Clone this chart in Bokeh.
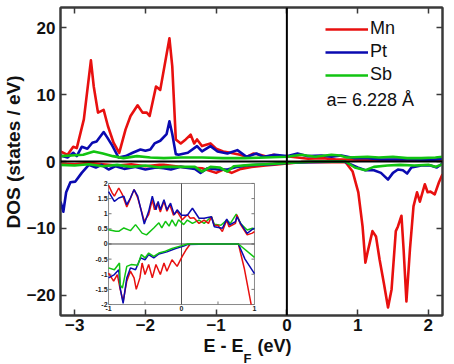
import numpy as np
from bokeh.plotting import figure
from bokeh.models import Range1d, LinearAxis, FixedTicker, Span, Label, Legend, LegendItem, Title
from bokeh.embed import file_html
from bokeh.resources import INLINE

# ---------------- main panel data (E - EF in eV, DOS in states/eV) ----------------
mn_up_x = [-3.2, -3.1, -3.02, -2.97, -2.87, -2.77, -2.73, -2.67, -2.59, -2.53, -2.45, -2.37, -2.28, -2.21,
           -2.11, -2.04, -1.98, -1.94, -1.85, -1.79, -1.66, -1.62, -1.57, -1.5, -1.43, -1.36, -1.31, -1.27,
           -1.2, -1.08, -1.0, -0.9, -0.8, -0.66, -0.57, -0.47, -0.38, -0.28, -0.19, -0.09, 0.0, 0.15, 0.3,
           0.5, 0.7, 0.9, 1.2, 1.5, 1.8, 2.2]
mn_up_y = [1.5, 1.0, 2.2, 2.0, 6.3, 15.1, 11.2, 7.3, 7.7, 5.3, 2.8, 1.3, 4.8, 6.8,
           8.4, 7.3, 7.3, 6.8, 11.2, 10.7, 18.4, 14.2, 3.3, 2.7, 3.3, 4.0, 2.7, 3.3,
           2.3, 2.7, 1.9, 1.5, 1.3, 1.0, 0.7, 1.2, 1.0, 0.7, 1.0, 0.7, 0.8, 0.6, 0.4,
           0.5, 0.3, 0.3, 0.2, 0.2, 0.3, 0.2]
pt_up_x = [-3.2, -3.1, -3.02, -2.97, -2.9, -2.82, -2.75, -2.69, -2.59, -2.54, -2.47, -2.38, -2.28, -2.18,
           -2.07, -2.0, -1.93, -1.87, -1.79, -1.7, -1.66, -1.62, -1.57, -1.53, -1.4, -1.27, -1.2, -1.08,
           -0.98, -0.84, -0.7, -0.57, -0.43, -0.33, -0.17, 0.0, 0.15, 0.3, 0.49, 0.63, 0.77, 0.96, 1.14,
           1.33, 1.57, 1.8, 2.03, 2.2]
pt_up_y = [0.9, 0.6, 1.3, 0.8, 2.2, 1.9, 2.8, 3.0, 4.4, 3.6, 2.4, 0.6, 0.8, 1.3,
           1.8, 1.6, 1.8, 2.7, 3.1, 4.1, 6.0, 4.1, 1.1, 1.0, 1.3, 2.3, 1.5, 2.3,
           1.5, 1.2, 1.7, 0.7, 1.2, 0.7, 1.0, 0.8, 1.2, 0.8, 0.9, 0.7, 0.9, 0.5, 0.5,
           0.3, 0.3, 0.3, 0.2, 0.4]
sb_up_x = [-3.2, -3.05, -2.88, -2.73, -2.6, -2.46, -2.31, -2.12, -1.93, -1.74, -1.5, -1.2, -0.9, -0.6,
           -0.3, 0.0, 0.2, 0.4, 0.63, 0.75, 0.85, 1.14, 1.3, 1.5, 1.7, 1.9, 2.1, 2.2]
sb_up_y = [0.8, 0.9, 1.0, 1.5, 1.2, 0.8, 0.5, 0.8, 0.6, 0.5, 0.6, 0.6, 0.5, 0.5,
           0.6, 0.7, 1.0, 0.7, 1.0, 0.9, 0.6, 0.7, 0.6, 0.7, 0.5, 0.5, 0.6, 0.7]

mn_dn_x = [-3.2, -3.0, -2.8, -2.6, -2.4, -2.2, -2.0, -1.8, -1.74, -1.57, -1.4, -1.2, -1.0, -0.9, -0.78,
           -0.65, -0.5, -0.3, -0.1, 0.0, 0.2, 0.5, 0.83, 0.93, 1.01, 1.07, 1.11, 1.14, 1.21, 1.26, 1.31,
           1.37, 1.43, 1.48, 1.54, 1.57, 1.62, 1.65, 1.69, 1.74, 1.79, 1.84, 1.88, 1.95, 1.99, 2.03,
           2.09, 2.15, 2.2]
mn_dn_y = [-0.3, -0.4, -0.2, -0.4, -0.6, -0.4, -0.7, -0.5, -0.5, -0.7, -0.9, -1.0, -1.7, -1.2, -1.7,
           -1.1, -0.8, -0.6, -0.4, -0.3, -0.1, -0.05, -0.1, -1.5, -4.6, -9.7, -15.1, -13.6, -10.4, -11.2, -14.6,
           -18.1, -21.8, -19.1, -10.4, -9.7, -8.1, -13.1, -20.9, -13.1, -6.7, -4.6, -6.0, -3.4, -4.6, -4.5,
           -4.9, -3.1, -1.9]
pt_dn_x = [-3.2, -3.16, -3.12, -3.06, -2.99, -2.9, -2.8, -2.7, -2.62, -2.52, -2.42, -2.3, -2.15, -2.0,
           -1.85, -1.74, -1.64, -1.5, -1.3, -1.22, -1.12, -0.98, -0.84, -0.7, -0.57, -0.43, -0.2, 0.0,
           0.3, 0.81, 1.0, 1.11, 1.23, 1.33, 1.43, 1.5, 1.57, 1.64, 1.7, 1.76, 1.9, 2.03, 2.12, 2.2]
pt_dn_y = [-6.0, -7.5, -4.6, -3.1, -3.0, -1.7, -0.5, -0.9, -0.5, -1.2, -0.7, -1.1, -0.8, -1.2,
           -0.9, -1.0, -1.2, -0.8, -1.1, -1.7, -1.0, -1.2, -1.2, -0.8, -0.6, -0.5, -0.4, -0.2,
           -0.1, 0.0, -0.9, -1.3, -1.3, -1.7, -2.7, -1.7, -1.2, -1.3, -1.8, -0.9, -0.6, -0.6, -0.9, -0.3]
sb_dn_x = [-3.2, -3.0, -2.8, -2.6, -2.4, -2.2, -2.0, -1.8, -1.74, -1.5, -1.3, -1.2, -1.08, -0.95, -0.84,
           -0.75, -0.5, -0.3, 0.0, 0.4, 0.83, 0.96, 1.11, 1.23, 1.42, 1.6, 1.8, 2.0, 2.1, 2.2]
sb_dn_y = [-0.5, -0.6, -0.4, -0.7, -0.5, -0.8, -0.6, -0.9, -0.8, -0.8, -0.8, -1.5, -0.8, -0.9, -1.5,
           -0.7, -0.5, -0.4, -0.2, 0.0, 0.0, -0.9, -1.3, -0.8, -0.6, -0.5, -0.6, -0.5, -0.8, -0.4]

x_ticks = [-3, -2, -1, 0, 1, 2]
y_ticks = [-20, -10, 0, 10, 20]

# ---------------- inset data ----------------
in_mn_up_x = [-1.0, -0.95, -0.92, -0.86, -0.81, -0.75, -0.7, -0.65, -0.6, -0.55, -0.51, -0.45, -0.4, -0.37,
              -0.33, -0.29, -0.24, -0.2, -0.16, -0.11, -0.06, 0.01, 0.08, 0.12, 0.17, 0.24, 0.31, 0.37, 0.41,
              0.45, 0.5, 0.56, 0.62, 0.65, 0.74, 0.76, 0.81, 0.9, 0.97, 1.0]
in_mn_up_y = [1.94, 1.69, 1.58, 1.85, 1.63, 1.22, 1.5, 1.8, 1.52, 1.1, 0.75, 0.97, 1.46, 1.13,
              1.35, 1.06, 1.41, 1.08, 1.30, 0.95, 1.08, 0.80, 0.97, 0.85, 0.87, 0.68, 0.79, 0.68, 0.9,
              0.6, 0.62, 0.41, 0.79, 0.57, 0.68, 0.96, 0.64, 0.3, 0.36, 0.41]
in_pt_up_x = [-1.0, -0.92, -0.86, -0.79, -0.75, -0.7, -0.65, -0.6, -0.55, -0.51, -0.45, -0.4, -0.35, -0.32,
              -0.29, -0.24, -0.2, -0.15, -0.1, -0.06, 0.0, 0.08, 0.15, 0.24, 0.31, 0.41, 0.45, 0.56, 0.62,
              0.66, 0.74, 0.76, 0.81, 0.9, 0.97, 1.0]
in_pt_up_y = [1.73, 1.41, 1.52, 1.58, 1.30, 1.52, 1.8, 1.58, 1.08, 0.66, 1.08, 1.58, 1.13, 1.41,
              1.13, 1.46, 1.13, 1.35, 0.97, 1.13, 0.95, 0.95, 1.18, 0.85, 0.85, 0.9, 0.57, 0.52, 0.82,
              0.63, 0.74, 0.9, 0.68, 0.35, 0.48, 0.52]
in_sb_up_x = [-1.0, -0.9, -0.86, -0.79, -0.7, -0.63, -0.54, -0.48, -0.38, -0.31, -0.27, -0.22, -0.17, -0.13,
              -0.08, -0.04, 0.03, 0.08, 0.15, 0.24, 0.31, 0.41, 0.45, 0.54, 0.62, 0.67, 0.75, 0.81, 0.9,
              0.97, 1.0]
in_sb_up_y = [0.47, 0.42, 0.42, 0.53, 0.44, 0.64, 0.36, 0.3, 0.53, 0.7, 0.53, 0.75, 0.59, 0.8,
              0.59, 0.8, 0.64, 0.79, 0.68, 0.79, 0.68, 0.9, 0.65, 0.62, 0.79, 0.68, 0.99, 0.68, 0.46,
              0.52, 0.48]
in_mn_dn_x = [-1.0, -0.93, -0.88, -0.84, -0.8, -0.75, -0.7, -0.65, -0.62, -0.57, -0.54, -0.5, -0.45, -0.4,
              -0.35, -0.29, -0.24, -0.2, -0.13, -0.06, 0.01, 0.06, 0.12, 0.4, 0.78, 0.86, 0.955]
in_mn_dn_y = [-0.96, -1.23, -1.01, -1.5, -1.9, -1.23, -0.9, -1.12, -1.5, -1.12, -0.63, -1.01, -0.68, -1.12,
              -0.68, -1.01, -0.63, -0.9, -0.52, -0.74, -0.41, -0.2, 0.0, 0.0, 0.0, -0.8, -2.0]
in_pt_dn_x = [-1.0, -0.92, -0.86, -0.84, -0.8, -0.75, -0.7, -0.63, -0.56, -0.5, -0.45, -0.38, -0.31, -0.2,
              -0.08, 0.03, 0.08, 0.4, 0.78, 0.87, 1.0]
in_pt_dn_y = [-1.12, -1.01, -0.85, -1.46, -1.96, -1.12, -0.79, -0.85, -0.46, -0.52, -0.35, -0.46, -0.33, -0.26,
              -0.15, -0.07, -0.02, 0.0, 0.0, -0.5, -0.98]
in_sb_dn_x = [-1.0, -0.92, -0.85, -0.84, -0.81, -0.75, -0.69, -0.6, -0.55, -0.5, -0.45, -0.38, -0.31, -0.22,
              -0.13, -0.02, 0.08, 0.4, 0.78, 1.0]
in_sb_dn_y = [-0.79, -0.85, -0.63, -1.35, -1.46, -0.74, -0.68, -0.7, -0.35, -0.46, -0.3, -0.41, -0.3, -0.24,
              -0.15, -0.07, 0.0, 0.0, 0.0, -0.44]

in_x_ticks = [-1, 0, 1]
in_x_labels = ["-1", "0", "1"]
in_y_ticks = [2, 1.5, 1, 0.5, 0, -0.5, -1, -1.5, -2]
in_y_labels = ["2", "1.5", "1", "0.5", "0", "-0.5", "-1", "-1.5", "-2"]
in_minor_x = [-0.5, 0.5]

RED, BLUE, GREEN = "#e8100f", "#0a0ab0", "#12c412"
FONT = "Liberation Sans"
DARK = "#3a3a3a"
TXT = "#111111"

p = figure(width=450, height=364, x_range=Range1d(-3.2, 2.2), y_range=Range1d(-23, 23),
           output_backend="svg", toolbar_location=None,
           min_border_left=60, min_border_right=8, min_border_top=7, min_border_bottom=49)
p.grid.visible = False
p.outline_line_color = DARK
p.outline_line_width = 2
p.background_fill_color = "white"
p.border_fill_color = "white"


def style_axis(ax, ticks, show_labels):
    ax.ticker = FixedTicker(ticks=ticks)
    ax.axis_line_color = DARK
    ax.axis_line_width = 2
    ax.major_tick_in = 6
    ax.major_tick_out = 0
    ax.major_tick_line_color = DARK
    ax.major_tick_line_width = 1.5
    ax.minor_tick_line_color = None
    ax.major_label_text_font = FONT
    ax.major_label_text_font_style = "bold"
    ax.major_label_text_font_size = "17px"
    ax.major_label_text_color = TXT
    if not show_labels:
        ax.major_label_overrides = {t: "" for t in ticks}
        ax.major_label_text_font_size = "1px"
        ax.major_label_standoff = 0


style_axis(p.xaxis[0], x_ticks, True)
style_axis(p.yaxis[0], y_ticks, True)
p.xaxis[0].major_label_standoff = 3
p.yaxis[0].major_label_standoff = 5

top_ax = LinearAxis()
right_ax = LinearAxis()
style_axis(top_ax, x_ticks, False)
style_axis(right_ax, y_ticks, False)
p.add_layout(top_ax, "above")
p.add_layout(right_ax, "right")

# axis titles (side-panel titles, so they are not clipped by the frame)
p.add_layout(Title(text="DOS (states / eV)", align="left", offset=87, standoff=0,
                   text_font=FONT, text_font_style="bold", text_font_size="19px", text_color=TXT), "left")
p.add_layout(Title(text="E - E\u2002 (eV)", align="left", offset=143, standoff=0,
                   text_font=FONT, text_font_style="bold", text_font_size="18px", text_color=TXT), "below")
p.add_layout(Title(text="F", align="left", offset=183, standoff=-14,
                   text_font=FONT, text_font_style="bold", text_font_size="13px", text_color=TXT), "below")

# zero lines
p.add_layout(Span(location=0, dimension="height", line_color="black", line_width=2))
p.add_layout(Span(location=0, dimension="width", line_color="black", line_width=2))

LW = 2.6
r_mn = p.line(mn_up_x, mn_up_y, line_color=RED, line_width=LW, line_join="round")
r_pt = p.line(pt_up_x, pt_up_y, line_color=BLUE, line_width=LW, line_join="round")
p.line(mn_dn_x, mn_dn_y, line_color=RED, line_width=LW, line_join="round")
p.line(pt_dn_x, pt_dn_y, line_color=BLUE, line_width=LW, line_join="round")
r_sb = p.line(sb_up_x, sb_up_y, line_color=GREEN, line_width=LW, line_join="round")
p.line(sb_dn_x, sb_dn_y, line_color=GREEN, line_width=LW, line_join="round")

legend = Legend(items=[LegendItem(label="Mn", renderers=[r_mn]),
                       LegendItem(label="Pt", renderers=[r_pt]),
                       LegendItem(label="Sb", renderers=[r_sb])],
                location=(265, 230), padding=0, margin=0, spacing=2,
                glyph_width=43, glyph_height=20, label_height=20, label_standoff=2,
                border_line_color=None, background_fill_alpha=0,
                label_text_font=FONT, label_text_font_size="18px", label_text_color=TXT)
p.add_layout(legend)

p.add_layout(Label(x=266, y=216, x_units="screen", y_units="screen", text="a= 6.228 Å",
                   text_font=FONT, text_font_size="18px", text_color=TXT,
                   text_baseline="alphabetic"))

# ---------------- inset ----------------
sub = p.subplot(x_source=Range1d(-1, 1), y_source=Range1d(-2, 2),
                x_target=Range1d(-2.521, -0.458), y_target=Range1d(-21.36, -3.28))
sub.quad(left=[in_x_ticks[0]], right=[in_x_ticks[-1]], bottom=[in_y_ticks[-1]], top=[in_y_ticks[0]],
         fill_color="white", line_color="#8a8a8a", line_width=1)
tl_x = 3 / 73.0
tl_y = 3 / 30.0
sub.segment(x0=[in_x_ticks[0]] * len(in_y_ticks), y0=in_y_ticks,
            x1=[in_x_ticks[0] + tl_x] * len(in_y_ticks), y1=in_y_ticks, line_color="#777777", line_width=1)
sub.segment(x0=[in_x_ticks[-1]] * len(in_y_ticks), y0=in_y_ticks,
            x1=[in_x_ticks[-1] - tl_x] * len(in_y_ticks), y1=in_y_ticks, line_color="#777777", line_width=1)
sub.segment(x0=in_minor_x, y0=[in_y_ticks[-1]] * 2, x1=in_minor_x, y1=[in_y_ticks[-1] + tl_y] * 2,
            line_color="#777777", line_width=1)
sub.segment(x0=[0], y0=[in_y_ticks[-1]], x1=[0], y1=[in_y_ticks[0]], line_color="#555555", line_width=1)
sub.segment(x0=[in_x_ticks[0]], y0=[0], x1=[in_x_ticks[-1]], y1=[0], line_color="#444444", line_width=1)

ILW = 1.5
sub.line(in_sb_up_x, in_sb_up_y, line_color=GREEN, line_width=ILW)
sub.line(in_mn_up_x, in_mn_up_y, line_color=RED, line_width=ILW)
sub.line(in_pt_up_x, in_pt_up_y, line_color=BLUE, line_width=ILW)
sub.line(in_mn_dn_x, in_mn_dn_y, line_color=RED, line_width=ILW)
sub.line(in_pt_dn_x, in_pt_dn_y, line_color=BLUE, line_width=ILW)
sub.line(in_sb_dn_x, in_sb_dn_y, line_color=GREEN, line_width=ILW)

sub.text(x=[in_x_ticks[0]] * len(in_y_ticks), y=in_y_ticks, text=in_y_labels,
         text_align="right", text_baseline="middle", x_offset=-1,
         text_font_size="7px", text_font_style="bold", text_font={"value": FONT}, text_color="#222222")
sub.text(x=in_x_ticks, y=[in_y_ticks[-1]] * len(in_x_ticks), text=in_x_labels,
         text_align="center", text_baseline="top", y_offset=1,
         text_font_size="7px", text_font_style="bold", text_font={"value": FONT}, text_color="#222222")

open("out.html", "w").write(file_html(p, INLINE))
